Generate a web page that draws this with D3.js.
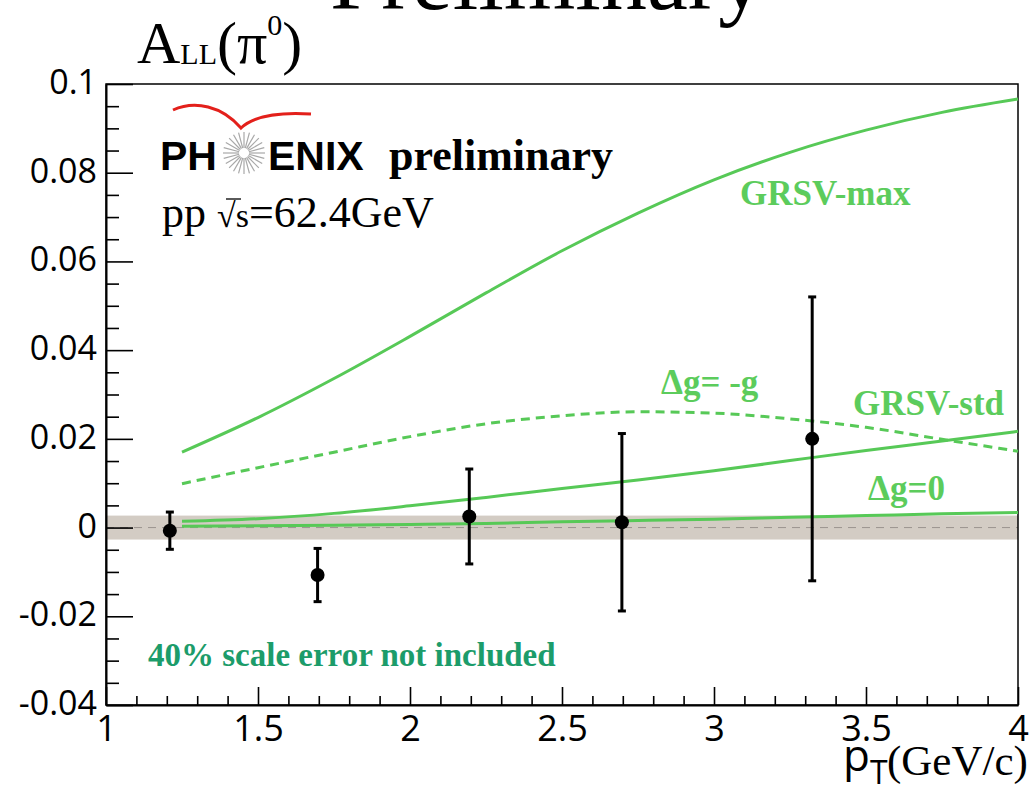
<!DOCTYPE html>
<html>
<head>
<meta charset="utf-8">
<script src="https://cdn.jsdelivr.net/npm/d3@7"></script>
<style>
  html, body { margin: 0; padding: 0; background: #ffffff; }
  svg { display: block; }
</style>
</head>
<body>
<div id="chart"></div>
<script>
// measured points: pT, A_LL, stat error
var pointPt  = [1.21, 1.696, 2.195, 2.697, 3.323];
var pointAll = [-0.0007, -0.0107, 0.0025, 0.0012, 0.0200];
var pointErr = [0.0042, 0.0060, 0.0107, 0.0200, 0.0320];

// theory curves
var curvePt   = [1.25, 1.5, 1.75, 2.0, 2.25, 2.5, 2.75, 3.0, 3.25, 3.5, 3.75, 4.0];
var grsvMax   = [0.0170, 0.0248, 0.0336, 0.0431, 0.0529, 0.0624, 0.0709, 0.0784, 0.0846, 0.0896, 0.0936, 0.0966];
var dgMinusG  = [0.0099, 0.0135, 0.0170, 0.0205, 0.0234, 0.0252, 0.0261, 0.0258, 0.0245, 0.0226, 0.0199, 0.0172];
var grsvStd   = [0.0014, 0.0020, 0.0032, 0.0049, 0.0068, 0.0088, 0.0107, 0.0128, 0.0151, 0.0174, 0.0195, 0.0217];
var dgZero    = [0.0003, 0.0004, 0.0005, 0.0007, 0.0009, 0.0013, 0.0016, 0.0019, 0.0023, 0.0027, 0.0031, 0.0034];

// systematic band half width
var bandHalf = 0.0027;

var xTicks = [1, 1.5, 2, 2.5, 3, 3.5, 4];
var yTicks = [-0.04, -0.02, 0, 0.02, 0.04, 0.06, 0.08, 0.1];
var yLabels = ["-0.04", "-0.02", "0", "0.02", "0.04", "0.06", "0.08", "0.1"];

var width = 1033, height = 789;
var margin = {top: 84, right: 15, bottom: 84, left: 106};

var curveGreen = "#57c957";
var labelGreen = "#5ccc5c";

var svg = d3.select("#chart").append("svg")
    .attr("width", width)
    .attr("height", height);

var x = d3.scaleLinear().domain([1, 4]).range([margin.left, width - margin.right]);
var y = d3.scaleLinear().domain([-0.04, 0.1]).range([height - margin.bottom, margin.top]);

// grey band around zero
svg.append("rect")
    .attr("x", x(1))
    .attr("y", y(bandHalf))
    .attr("width", x(4) - x(1))
    .attr("height", y(-bandHalf) - y(bandHalf))
    .attr("fill", "#d3ccc4");

svg.append("line")
    .attr("x1", x(1)).attr("x2", x(4))
    .attr("y1", y(0)).attr("y2", y(0))
    .attr("stroke", "#9a948e")
    .attr("stroke-width", 1)
    .attr("stroke-dasharray", "8,6");

// frame
svg.append("rect")
    .attr("x", x(1))
    .attr("y", y(0.1))
    .attr("width", x(4) - x(1))
    .attr("height", y(-0.04) - y(0.1))
    .attr("fill", "none")
    .attr("stroke", "#000")
    .attr("stroke-width", 1.5);

// minor ticks
var yMinor = d3.range(-0.04, 0.1001, 0.005).filter(function(v) {
    return Math.abs(v / 0.02 - Math.round(v / 0.02)) > 0.01;
});
var xMinor = d3.range(1, 4.001, 0.1).filter(function(v) {
    return Math.abs(v / 0.5 - Math.round(v / 0.5)) > 0.01;
});

svg.append("g")
    .attr("transform", "translate(" + x(1) + ",0)")
    .call(d3.axisLeft(y).tickValues(yMinor).tickSize(-13).tickFormat(""))
    .call(function(g) { g.select(".domain").remove(); })
    .selectAll("line").attr("stroke-width", 1.6);

svg.append("g")
    .attr("transform", "translate(0," + y(-0.04) + ")")
    .call(d3.axisBottom(x).tickValues(xMinor).tickSize(-9).tickFormat(""))
    .call(function(g) { g.select(".domain").remove(); })
    .selectAll("line").attr("stroke-width", 1.6);

// major axes
var yAxis = svg.append("g")
    .attr("transform", "translate(" + x(1) + ",0)")
    .call(d3.axisLeft(y).tickValues(yTicks).tickSize(-27).tickSizeOuter(0).tickPadding(9)
        .tickFormat(function(d, i) { return yLabels[i]; }));
yAxis.select(".domain").attr("stroke-width", 2);
yAxis.selectAll("line").attr("stroke-width", 1.6);
yAxis.selectAll("text")
    .attr("font-family", "'Open Sans', sans-serif")
    .attr("font-size", 34)
    .attr("dy", "0.28em")
    .attr("fill", "#000");

var xAxis = svg.append("g")
    .attr("transform", "translate(0," + y(-0.04) + ")")
    .call(d3.axisBottom(x).tickValues(xTicks).tickSize(-18).tickSizeOuter(0).tickPadding(10)
        .tickFormat(d3.format("")));
xAxis.select(".domain").attr("stroke-width", 2);
xAxis.selectAll("line").attr("stroke-width", 1.6);
xAxis.selectAll("text")
    .attr("font-family", "'Open Sans', sans-serif")
    .attr("font-size", 36)
    .attr("fill", "#000");

// theory curves
var line = d3.line()
    .x(function(d) { return x(d[0]); })
    .y(function(d) { return y(d[1]); })
    .curve(d3.curveMonotoneX);

function pairs(vals) {
    return curvePt.map(function(p, i) { return [p, vals[i]]; });
}

[grsvMax, grsvStd, dgZero].forEach(function(vals) {
    svg.append("path")
        .attr("d", line(pairs(vals)))
        .attr("fill", "none")
        .attr("stroke", curveGreen)
        .attr("stroke-width", 3);
});

svg.append("path")
    .attr("d", line(pairs(dgMinusG)))
    .attr("fill", "none")
    .attr("stroke", curveGreen)
    .attr("stroke-width", 3)
    .attr("stroke-dasharray", "9,6");

// data points with error bars
var pts = pointPt.map(function(p, i) { return {pt: p, a: pointAll[i], e: pointErr[i]}; });

var pg = svg.append("g").selectAll("g").data(pts).enter().append("g");
pg.append("line")
    .attr("x1", function(d) { return x(d.pt); })
    .attr("x2", function(d) { return x(d.pt); })
    .attr("y1", function(d) { return y(d.a + d.e); })
    .attr("y2", function(d) { return y(d.a - d.e); })
    .attr("stroke", "#000").attr("stroke-width", 3);
pg.append("line")
    .attr("x1", function(d) { return x(d.pt) - 4; })
    .attr("x2", function(d) { return x(d.pt) + 4; })
    .attr("y1", function(d) { return y(d.a + d.e); })
    .attr("y2", function(d) { return y(d.a + d.e); })
    .attr("stroke", "#000").attr("stroke-width", 3);
pg.append("line")
    .attr("x1", function(d) { return x(d.pt) - 4; })
    .attr("x2", function(d) { return x(d.pt) + 4; })
    .attr("y1", function(d) { return y(d.a - d.e); })
    .attr("y2", function(d) { return y(d.a - d.e); })
    .attr("stroke", "#000").attr("stroke-width", 3);
pg.append("circle")
    .attr("cx", function(d) { return x(d.pt); })
    .attr("cy", function(d) { return y(d.a); })
    .attr("r", 7)
    .attr("fill", "#000");

// curve labels
var serif = "'Liberation Serif', 'Times New Roman', serif";
function greenLabel(txt, px, py, size, col) {
    svg.append("text")
        .attr("x", px).attr("y", py)
        .attr("font-family", serif)
        .attr("font-weight", "bold")
        .attr("font-size", size)
        .attr("fill", col)
        .text(txt);
}
greenLabel("GRSV-max", 740, 205, 35, labelGreen);
greenLabel("\u0394g= -g", 661, 394, 35, labelGreen);
greenLabel("GRSV-std", 853, 415, 35, labelGreen);
greenLabel("\u0394g=0", 868, 500, 35, labelGreen);
greenLabel("40% scale error not included", 148, 666, 33, "#1c9c6a");

// title and axis labels
svg.append("text")
    .attr("x", 330).attr("y", 9)
    .attr("font-family", serif)
    .attr("font-size", 92)
    .attr("fill", "#000")
    .text("Preliminary");

var title = svg.append("text")
    .attr("x", 137).attr("y", 63)
    .attr("font-family", serif)
    .attr("fill", "#000");
title.append("tspan").attr("font-size", 60).text("A");
title.append("tspan").attr("font-size", 30).attr("dy", 1).text("LL");
title.append("tspan").attr("font-size", 60).attr("dy", -1).text("(\u03C0");
title.append("tspan").attr("font-size", 30).attr("dy", -28).text("0");
title.append("tspan").attr("font-size", 60).attr("dy", 28).text(")");

var xl = svg.append("text")
    .attr("y", 771)
    .attr("fill", "#000");
xl.append("tspan").attr("x", 843).attr("font-family", "'Open Sans', sans-serif").attr("font-size", 44).text("p");
xl.append("tspan").attr("x", 870).attr("font-family", "'Open Sans', sans-serif").attr("font-size", 32).attr("dy", 13).text("T");
xl.append("tspan").attr("x", 887).attr("font-family", serif).attr("font-size", 43).attr("dy", -9).text("(GeV/c)");

// PHENIX logo
var sans = "'Liberation Sans', Arial, sans-serif";
svg.append("text")
    .attr("x", 160).attr("y", 170)
    .attr("font-family", sans).attr("font-weight", "bold").attr("font-size", 41)
    .attr("fill", "#000")
    .text("PH");
svg.append("text")
    .attr("x", 268).attr("y", 170)
    .attr("font-family", sans).attr("font-weight", "bold").attr("font-size", 41)
    .attr("fill", "#000")
    .text("ENIX");

var star = svg.append("g").attr("transform", "translate(244,153)");
d3.range(0, 360, 15).forEach(function(a) {
    var r = a * Math.PI / 180;
    star.append("line")
        .attr("x1", 5 * Math.cos(r)).attr("y1", 5 * Math.sin(r))
        .attr("x2", 21 * Math.cos(r)).attr("y2", 21 * Math.sin(r))
        .attr("stroke", "#a8a8a8").attr("stroke-width", 1.2);
});

svg.append("path")
    .attr("d", "M173,110 C195,100 222,106 241,128 C254,116 280,112 311,114")
    .attr("fill", "none")
    .attr("stroke", "#e3201b")
    .attr("stroke-width", 3);

svg.append("text")
    .attr("x", 389).attr("y", 170)
    .attr("font-family", serif).attr("font-weight", "bold").attr("font-size", 44)
    .attr("fill", "#000")
    .text("preliminary");

var pp = svg.append("text")
    .attr("x", 162).attr("y", 227)
    .attr("font-family", serif).attr("font-size", 44)
    .attr("fill", "#000");
pp.append("tspan").text("pp ");
pp.append("tspan").attr("font-size", 34).text("\u221A");
pp.append("tspan").attr("font-size", 34).text("s");
pp.append("tspan").text("=62.4GeV");
svg.append("line")
    .attr("x1", 226).attr("x2", 241)
    .attr("y1", 199).attr("y2", 199)
    .attr("stroke", "#000").attr("stroke-width", 1.3);
</script>
</body>
</html>
